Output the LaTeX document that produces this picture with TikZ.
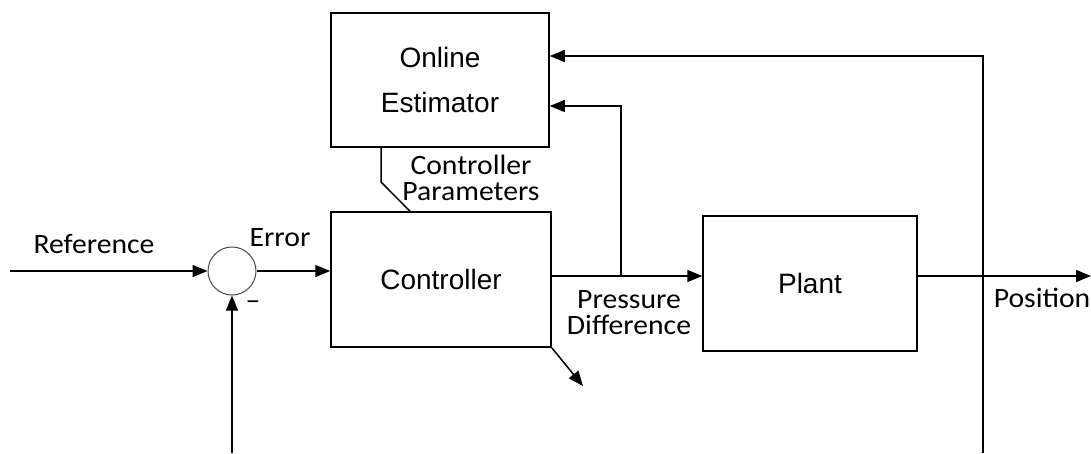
\documentclass[tikz,border=0pt]{standalone}
\usepackage{fontspec}
\setmainfont{Liberation Sans}
\newfontfamily\labelfont{Carlito}[FakeStretch=1.06]
\usetikzlibrary{arrows.meta,calc}

\begin{document}
\begin{tikzpicture}[x=1pt,y=-1pt,
  line width=1.5pt,
  blk/.style={draw, rectangle, inner sep=0pt, align=center,
              font=\fontsize{28}{45}\selectfont},
  lbl/.style={inner sep=0pt, font=\labelfont\fontsize{28}{25}\selectfont},
  sig/.style={-{Triangle[length=15pt,width=12pt]}}
]
\useasboundingbox (0,0) rectangle (1091,453);
\fill[white] (0,0) rectangle (1091,453);

% blocks
\node[blk, minimum width=218pt, minimum height=134pt] (est) at (440,80) {Online\\Estimator};
\node[blk, minimum width=220pt, minimum height=135pt] (ctrl) at (441,279.5) {Controller};
\node[blk, minimum width=214pt, minimum height=135pt] (plant) at (810,283.5) {Plant};
\node[circle, draw=black!70, line width=1pt, minimum size=48pt, inner sep=0pt] (sum) at (232,271) {};

% helper points
\coordinate (refin) at (10,271);
\coordinate (fbsum) at (232,453);
\coordinate (pd) at (621,276);
\coordinate (e1) at (0,56);
\coordinate (e2) at (0,106);
\coordinate (fbpos) at (983,453);
\coordinate (out) at (1091,276);
\coordinate (pbend) at (381,182);
\coordinate (pbot) at (410,212);
\coordinate (dtip) at (583,386);

% signal lines
\draw[sig] (refin) -- (sum.west);
\draw[sig] (sum.east) -- (sum.east -| ctrl.west);
\draw[sig] (fbsum) -- (sum.south);
\draw[sig] (ctrl.east |- pd) -- (plant.west |- pd);
\draw[sig] (pd) |- (est.east |- e2);
\draw[sig] (plant.east |- pd) -- (out);
\draw[sig] (fbpos) |- (est.east |- e1);
\draw (est.south -| pbend) -- (pbend) -- (ctrl.north -| pbot);
\draw[sig] (ctrl.south east) -- (dtip);

% labels
\node[lbl, anchor=base] (lref) at (94,253) {Reference};
\node[lbl, anchor=base] (lerr) at (280,246) {Error};
\node[lbl, anchor=base] (lminus) at (253,309.5) {–};
\node[lbl, anchor=base] (lpar1) at (471,174) {Controller};
\node[lbl, anchor=base] (lpar2) at (471,200) {Parameters};
\node[lbl, anchor=base] (lpd1) at (629,308.7) {Pressure};
\node[lbl, anchor=base] (lpd2) at (629,334) {Difference};
\node[lbl, anchor=base west] (lpos) at (993,307) {Position};
\end{tikzpicture}
\end{document}
